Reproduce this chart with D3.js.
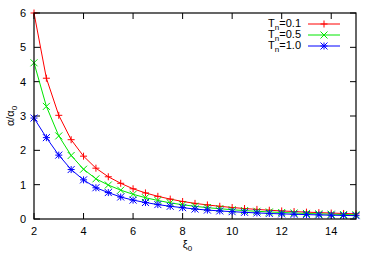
<!DOCTYPE html>
<html>
<head>
<meta charset="utf-8">
<script src="https://cdn.jsdelivr.net/npm/d3@7"></script>
<style>
  body { margin: 0; background: #fff; }
  text { font-family: "Liberation Sans", Arial, sans-serif; font-size: 11px; fill: #000; }
</style>
</head>
<body>
<div id="chart"></div>
<script>
var xi0 = [2, 2.5, 3, 3.5, 4, 4.5, 5, 5.5, 6, 6.5, 7, 7.5, 8, 8.5, 9, 9.5, 10, 10.5, 11, 11.5, 12, 12.5, 13, 13.5, 14, 14.5, 15];
var tn01 = [6.0, 4.1, 3.02, 2.31, 1.83, 1.48, 1.23, 1.04, 0.88, 0.76, 0.66, 0.58, 0.51, 0.455, 0.41, 0.37, 0.335, 0.305, 0.28, 0.255, 0.235, 0.217, 0.2, 0.186, 0.173, 0.161, 0.15];
var tn05 = [4.55, 3.28, 2.42, 1.85, 1.45, 1.17, 0.99, 0.84, 0.72, 0.62, 0.54, 0.47, 0.415, 0.37, 0.33, 0.3, 0.27, 0.245, 0.225, 0.205, 0.19, 0.175, 0.162, 0.15, 0.14, 0.131, 0.122];
var tn10 = [2.94, 2.37, 1.86, 1.44, 1.14, 0.91, 0.77, 0.64, 0.55, 0.48, 0.42, 0.37, 0.33, 0.29, 0.26, 0.235, 0.213, 0.194, 0.177, 0.162, 0.149, 0.138, 0.128, 0.119, 0.111, 0.104, 0.098];
var seriesNames = ["0.1", "0.5", "1.0"];
var xTicks = [2, 4, 6, 8, 10, 12, 14];
var yTicks = [0, 1, 2, 3, 4, 5, 6];

var width = 374, height = 267;
var margin = {left: 34, right: 18, top: 13, bottom: 48};
var iw = width - margin.left - margin.right,
    ih = height - margin.top - margin.bottom;

var svg = d3.select("#chart").append("svg")
    .attr("width", width).attr("height", height);
var g = svg.append("g").attr("transform", "translate(" + margin.left + "," + margin.top + ")");

var x = d3.scaleLinear().domain([2, 15]).range([0, iw]);
var y = d3.scaleLinear().domain([0, 6]).range([ih, 0]);

var colors = ["#ff0000", "#00e600", "#0000ff"];
var allSeries = [tn01, tn05, tn10];

// markers: +, x, *
function marker(sel, type, color) {
    var s = 3.5;
    var p = "";
    if (type === 0 || type === 2) p += "M" + (-s) + ",0H" + s + "M0," + (-s) + "V" + s;
    if (type === 1 || type === 2) p += "M" + (-s) + "," + (-s) + "L" + s + "," + s + "M" + (-s) + "," + s + "L" + s + "," + (-s);
    sel.append("path").attr("d", p).attr("stroke", color).attr("stroke-width", 1).attr("fill", "none");
}

// text with a subscript part
function subText(t, main, sub, rest) {
    t.append("tspan").text(main);
    t.append("tspan").attr("dy", 3).attr("font-size", "8px").text(sub);
    if (rest) t.append("tspan").attr("dy", -3).text(rest);
}

// ticks (inward, mirrored)
var tl = 6;
xTicks.forEach(function (t) {
    g.append("line").attr("x1", x(t)).attr("x2", x(t)).attr("y1", ih).attr("y2", ih - tl).attr("stroke", "#000");
    g.append("line").attr("x1", x(t)).attr("x2", x(t)).attr("y1", 0).attr("y2", tl).attr("stroke", "#000");
    g.append("text").attr("x", x(t)).attr("y", ih + 16).attr("text-anchor", "middle").text(t);
});
yTicks.forEach(function (t) {
    g.append("line").attr("x1", 0).attr("x2", tl).attr("y1", y(t)).attr("y2", y(t)).attr("stroke", "#000");
    g.append("line").attr("x1", iw).attr("x2", iw - tl).attr("y1", y(t)).attr("y2", y(t)).attr("stroke", "#000");
    g.append("text").attr("x", -8).attr("y", y(t)).attr("dy", "0.35em").attr("text-anchor", "end").text(t);
});

var line = d3.line().x(function (d) { return x(d[0]); }).y(function (d) { return y(d[1]); });

allSeries.forEach(function (vals, k) {
    var pts = xi0.map(function (v, i) { return [v, vals[i]]; });
    g.append("path").datum(pts).attr("d", line)
        .attr("fill", "none").attr("stroke", colors[k]).attr("stroke-width", 1);
    pts.forEach(function (p) {
        var m = g.append("g").attr("transform", "translate(" + x(p[0]) + "," + y(p[1]) + ")");
        marker(m, k, colors[k]);
    });
});

// frame
g.append("rect").attr("width", iw).attr("height", ih)
    .attr("fill", "none").attr("stroke", "#000").attr("stroke-width", 1.2);

// legend
seriesNames.forEach(function (n, k) {
    var ly = 11 + k * 11;
    var t = g.append("text").attr("x", 267).attr("y", ly + 3).attr("text-anchor", "end");
    subText(t, "T", "n", "=" + n);
    g.append("line").attr("x1", 274).attr("x2", 306).attr("y1", ly).attr("y2", ly)
        .attr("stroke", colors[k]).attr("stroke-width", 1);
    var m = g.append("g").attr("transform", "translate(290," + ly + ")");
    marker(m, k, colors[k]);
});

// axis labels
svg.append("text").attr("transform", "translate(14," + (margin.top + ih / 2) + ") rotate(-90)")
    .attr("text-anchor", "middle")
    .call(function (t) { subText(t, "α/α", "0"); });
svg.append("text").attr("x", margin.left + x(8.2)).attr("y", 248).attr("text-anchor", "middle")
    .call(function (t) { subText(t, "ξ", "0"); });
</script>
</body>
</html>
